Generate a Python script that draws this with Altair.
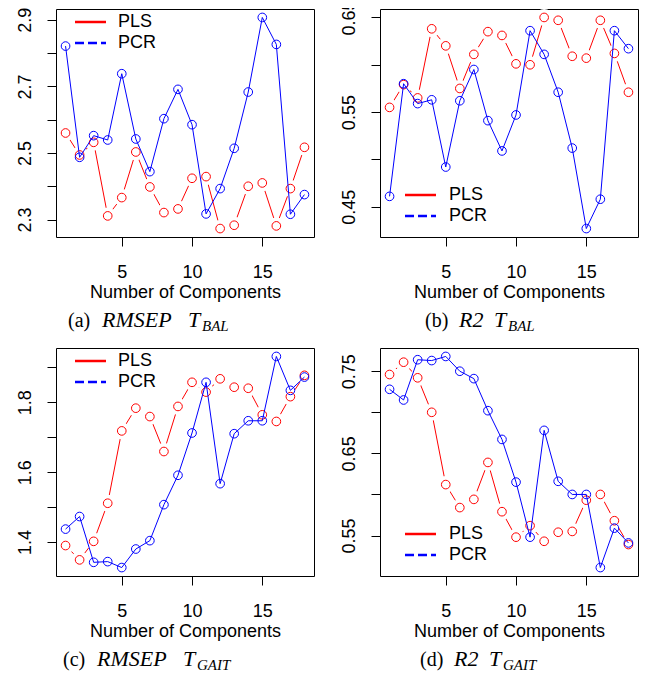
import altair as alt
import pandas as pd

components = list(range(1, 19))
series_names = ["PLS", "PCR"]

rmsep_bal_pls = [2.560, 2.494, 2.532, 2.311, 2.366, 2.503, 2.398, 2.321, 2.332, 2.424, 2.429, 2.273, 2.283, 2.400, 2.410, 2.281, 2.393, 2.517]
rmsep_bal_pcr = [2.821, 2.487, 2.552, 2.539, 2.738, 2.542, 2.444, 2.603, 2.691, 2.585, 2.317, 2.393, 2.514, 2.683, 2.907, 2.826, 2.316, 2.375]

r2_bal_pls = [0.555, 0.579, 0.565, 0.638, 0.620, 0.575, 0.611, 0.635, 0.631, 0.601, 0.600, 0.650, 0.647, 0.609, 0.607, 0.647, 0.612, 0.571]
r2_bal_pcr = [0.461, 0.580, 0.559, 0.563, 0.492, 0.562, 0.595, 0.541, 0.509, 0.547, 0.636, 0.611, 0.571, 0.512, 0.427, 0.458, 0.636, 0.617]

rmsep_gait_pls = [1.390, 1.349, 1.402, 1.511, 1.718, 1.783, 1.759, 1.659, 1.788, 1.857, 1.829, 1.867, 1.843, 1.840, 1.764, 1.745, 1.816, 1.877]
rmsep_gait_pcr = [1.437, 1.473, 1.342, 1.344, 1.327, 1.380, 1.404, 1.507, 1.591, 1.712, 1.857, 1.567, 1.710, 1.747, 1.747, 1.931, 1.834, 1.872]

r2_gait_pls = [0.746, 0.761, 0.742, 0.700, 0.612, 0.584, 0.594, 0.639, 0.579, 0.548, 0.562, 0.543, 0.554, 0.555, 0.593, 0.600, 0.568, 0.539]
r2_gait_pcr = [0.728, 0.715, 0.764, 0.763, 0.768, 0.750, 0.741, 0.702, 0.667, 0.615, 0.548, 0.678, 0.616, 0.600, 0.600, 0.511, 0.559, 0.541]

x_ticks = [5, 10, 15]
ticks_a = [2.3, 2.4, 2.5, 2.6, 2.7, 2.8, 2.9]
labels_a = ["2.3", "2.5", "2.7", "2.9"]
ticks_b = [0.45, 0.50, 0.55, 0.60, 0.65]
labels_b = ["0.45", "0.55", "0.65"]
ticks_c = [1.4, 1.5, 1.6, 1.7, 1.8, 1.9]
labels_c = ["1.4", "1.6", "1.8"]
ticks_d = [0.55, 0.60, 0.65, 0.70, 0.75]
labels_d = ["0.55", "0.65", "0.75"]

RED = "#ff0000"
BLUE = "#0000ff"
SANS = "Liberation Sans"
SERIF = "Liberation Serif"
W, H = 258, 228

panels = [
    dict(pls=rmsep_bal_pls, pcr=rmsep_bal_pcr, ticks=ticks_a, labels=labels_a, fmt=".1f",
         legend="top", tag="(a)", measure="RMSEP", sub="BAL", cx=12, mx=46, tx=132),
    dict(pls=r2_bal_pls, pcr=r2_bal_pcr, ticks=ticks_b, labels=labels_b, fmt=".2f",
         legend="bottom", tag="(b)", measure="R2", sub="BAL", cx=45, mx=79, tx=114),
    dict(pls=rmsep_gait_pls, pcr=rmsep_gait_pcr, ticks=ticks_c, labels=labels_c, fmt=".1f",
         legend="top", tag="(c)", measure="RMSEP", sub="GAIT", cx=7, mx=41, tx=127),
    dict(pls=r2_gait_pls, pcr=r2_gait_pcr, ticks=ticks_d, labels=labels_d, fmt=".2f",
         legend="bottom", tag="(d)", measure="R2", sub="GAIT", cx=40, mx=74, tx=109),
]

n = len(components)
xdom = [components[0] - 0.04 * (components[-1] - components[0]),
        components[-1] + 0.04 * (components[-1] - components[0])]


def one_row(text):
    return pd.DataFrame({"t": [text]})


def panel(p):
    vals = p["pls"] + p["pcr"]
    lo, hi = min(vals), max(vals)
    ydom = [lo - 0.04 * (hi - lo), hi + 0.04 * (hi - lo)]
    df = pd.DataFrame({
        "comp": components * 2,
        "series": [series_names[0]] * n + [series_names[1]] * n,
        "value": vals,
    })
    lab_list = ",".join("'%s'" % s for s in p["labels"])
    label_expr = ("indexof([%s], format(datum.value, '%s')) >= 0 ? format(datum.value, '%s') : ''"
                  % (lab_list, p["fmt"], p["fmt"]))
    x = alt.X("comp:Q", scale=alt.Scale(domain=xdom, nice=False, zero=False),
              axis=alt.Axis(values=x_ticks, title="Number of Components", format="d",
                            labelPadding=17, titlePadding=2, labelFlush=False,
                            labelOverlap=False))
    y = alt.Y("value:Q", scale=alt.Scale(domain=ydom, nice=False, zero=False),
              axis=alt.Axis(values=p["ticks"], title=None, labelExpr=label_expr,
                            labelAngle=270, labelAlign="center", labelBaseline="bottom",
                            labelPadding=13, labelFlush=False, labelOverlap=False))
    base = alt.Chart(df).encode(x=x, y=y)
    pls = base.transform_filter(alt.datum.series == series_names[0])
    pcr = base.transform_filter(alt.datum.series == series_names[1])
    layers = [
        pls.mark_line(color=RED, strokeWidth=1),
        pls.mark_point(shape="circle", filled=True, color="white", size=290, opacity=1),
        pls.mark_point(shape="circle", filled=False, color=RED, size=75, strokeWidth=1, opacity=1),
        pcr.mark_line(color=BLUE, strokeWidth=1),
        pcr.mark_point(shape="circle", filled=False, color=BLUE, size=75, strokeWidth=1, opacity=1),
    ]
    # legend (R style, no box)
    if p["legend"] == "top":
        lx0, lx1, ltx, ly = 19, 50, 62, [13, 34]
    else:
        lx0, lx1, ltx, ly = 25, 56, 69, [186, 207]
    styles = [dict(color=RED, strokeWidth=2.5), dict(color=BLUE, strokeWidth=2.5, strokeDash=[9, 4])]
    for name, st, yy in zip(series_names, styles, ly):
        layers.append(alt.Chart(one_row(name)).mark_rule(**st).encode(
            x=alt.value(lx0), x2=alt.value(lx1), y=alt.value(yy)))
        layers.append(alt.Chart(one_row(name)).mark_text(
            align="left", baseline="middle", font=SANS, fontSize=18, color="black").encode(
            x=alt.value(ltx), y=alt.value(yy), text="t:N"))
    # caption
    cy = 318
    cap = [
        (p["tag"], p["cx"], "normal", 20, cy),
        (p["measure"], p["mx"], "italic", 22, cy),
        ("T", p["tx"], "italic", 22, cy),
        (p["sub"], p["tx"] + 14, "italic", 15, cy + 4),
    ]
    for text, cx, style, size, yy in cap:
        layers.append(alt.Chart(one_row(text)).mark_text(
            align="left", baseline="alphabetic", font=SERIF, fontStyle=style,
            fontSize=size, color="black").encode(
            x=alt.value(cx), y=alt.value(yy), text="t:N"))
    return alt.layer(*layers).properties(width=W, height=H)


charts = [panel(p) for p in panels]
chart = alt.concat(*charts, columns=2, spacing={"row": 111, "column": 66}, bounds="flush").properties(
    padding={"left": 7, "top": -9, "right": 0, "bottom": 0},
    background="white"
).configure_view(
    stroke="black", strokeWidth=1
).configure_axis(
    grid=False, domain=False, tickSize=9, tickWidth=1, tickColor="black",
    labelFont=SANS, labelFontSize=18, labelColor="black",
    titleFont=SANS, titleFontSize=18, titleFontWeight="normal", titleColor="black"
)

chart.save("out.html", embed_options={"renderer": "svg", "actions": False})
